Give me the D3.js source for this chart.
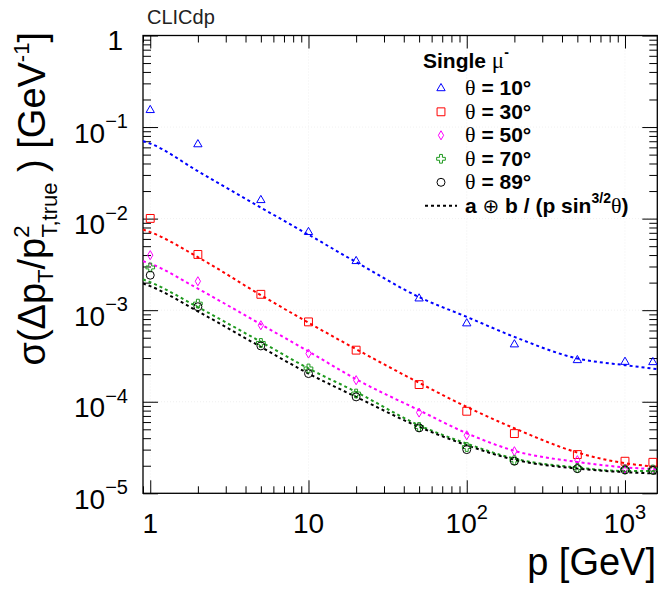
<!DOCTYPE html>
<html><head><meta charset="utf-8">
<script src="https://cdn.jsdelivr.net/npm/d3@7"></script>
<style>
body{margin:0;background:#fff}
text{font-family:"Liberation Sans",Arial,Helvetica,sans-serif}
</style>
</head><body>
<svg id="c" width="660" height="589"></svg>
<script>
// ---------------- data ----------------
const momenta = [1, 2, 5, 10, 20, 50, 100, 200, 500, 1000, 1500];
const thetaLabels = ["10", "30", "50", "70", "89"];
const sigma10 = [0.153, 0.0647, 0.0159, 0.00712, 0.00343, 0.00134, 7.16e-4, 4.22e-4, 2.84e-4, 2.72e-4, 2.70e-4];
const sigma30 = [0.01005, 0.00406, 1.49e-3, 7.45e-4, 3.66e-4, 1.54e-4, 7.87e-5, 4.49e-5, 2.65e-5, 2.24e-5, 2.18e-5];
const sigma50 = [3.99e-3, 2.07e-3, 6.85e-4, 3.36e-4, 1.72e-4, 7.62e-5, 4.30e-5, 2.88e-5, 2.30e-5, 1.86e-5, 1.82e-5];
const sigma70 = [2.93e-3, 1.18e-3, 4.39e-4, 2.31e-4, 1.23e-4, 5.30e-5, 3.20e-5, 2.30e-5, 1.89e-5, 1.82e-5, 1.82e-5];
const sigma89 = [2.41e-3, 1.09e-3, 4.07e-4, 2.03e-4, 1.13e-4, 5.18e-5, 3.00e-5, 2.24e-5, 1.86e-5, 1.80e-5, 1.78e-5];

// fitted curves a (+) b/(p sin^3/2 theta)
const fitMomenta = [0.9, 1, 2, 5, 10, 20, 50, 100, 200, 500, 1000, 1600];
const fit10 = [0.0703, 0.0660, 0.0330, 0.0132, 0.00668, 0.00335, 0.00139, 8.45e-4, 5.11e-4, 2.97e-4, 2.51e-4, 2.27e-4];
const fit30 = [7.59e-3, 7.12e-3, 3.80e-3, 1.46e-3, 7.30e-4, 3.75e-4, 1.61e-4, 8.77e-5, 5.13e-5, 2.79e-5, 2.13e-5, 1.95e-5];
const fit50 = [3.43e-3, 3.22e-3, 1.72e-3, 7.00e-4, 3.55e-4, 1.76e-4, 8.07e-5, 4.53e-5, 2.91e-5, 2.20e-5, 1.92e-5, 1.83e-5];
const fit70 = [2.17e-3, 2.02e-3, 1.08e-3, 4.51e-4, 2.31e-4, 1.28e-4, 5.53e-5, 3.49e-5, 2.39e-5, 1.91e-5, 1.75e-5, 1.75e-5];
const fit89 = [1.96e-3, 1.83e-3, 0.97e-3, 3.97e-4, 2.03e-4, 1.13e-4, 5.31e-5, 3.35e-5, 2.33e-5, 1.86e-5, 1.70e-5, 1.64e-5];

const xTickValues = [1, 10, 100, 1000];
const xTickLabels = [["1", ""], ["10", ""], ["10", "2"], ["10", "3"]];
const yTickValues = [1, 1e-1, 1e-2, 1e-3, 1e-4, 1e-5];
const yTickLabels = [["1", ""], ["10", "\u22121"], ["10", "\u22122"], ["10", "\u22123"], ["10", "\u22124"], ["10", "\u22125"]];

const seriesColors = ["#0000ff", "#ff0000", "#ff00ff", "#1f9a1f", "#000000"];
const seriesSymbols = [d3.symbolTriangle, d3.symbolSquare, d3.symbolDiamond, d3.symbolCross, d3.symbolCircle];
const symbolSizes = [30, 62, 24, 42, 50];

// ---------------- layout ----------------
const L = 143, R = 657.3, T = 35.5, B = 493.3;
const svg = d3.select("#c");
const x = d3.scaleLog().domain([0.9, 1600]).range([L, R]);
const y = d3.scaleLog().domain([1e-5, 1]).range([B, T]);

svg.append("defs").append("clipPath").attr("id", "clip")
  .append("rect").attr("x", L).attr("y", T).attr("width", R - L).attr("height", B - T);

// faint grid
const gGrid = svg.append("g").attr("stroke", "#ececec").attr("stroke-width", 0.8).attr("stroke-dasharray", "1,2");
xTickValues.forEach(v => gGrid.append("line").attr("x1", x(v)).attr("x2", x(v)).attr("y1", T).attr("y2", B));
yTickValues.forEach(v => gGrid.append("line").attr("x1", L).attr("x2", R).attr("y1", y(v)).attr("y2", y(v)));

// minor tick values
const xMinor = [], yMinor = [];
for (let d = -1; d <= 3; d++) for (let k = 2; k <= 9; k++) { const v = k * Math.pow(10, d); if (v >= 0.9 && v <= 1600) xMinor.push(v); }
for (let d = -5; d <= -1; d++) for (let k = 2; k <= 9; k++) yMinor.push(k * Math.pow(10, d));

function axis(gen, scale, vals, size, transform) {
  const g = svg.append("g").attr("transform", transform)
    .call(gen(scale).tickValues(vals).tickSize(size).tickFormat(""));
  g.select(".domain").remove();
  g.selectAll("line").attr("stroke", "#000").attr("stroke-width", 1);
}
axis(d3.axisBottom, x, xTickValues, -13, `translate(0,${B})`);
axis(d3.axisBottom, x, xMinor, -7, `translate(0,${B})`);
axis(d3.axisTop, x, xTickValues, -13, `translate(0,${T})`);
axis(d3.axisTop, x, xMinor, -7, `translate(0,${T})`);
axis(d3.axisLeft, y, yTickValues, -15, `translate(${L},0)`);
axis(d3.axisLeft, y, yMinor, -8, `translate(${L},0)`);
axis(d3.axisRight, y, yTickValues, -15, `translate(${R},0)`);
axis(d3.axisRight, y, yMinor, -8, `translate(${R},0)`);

// frame
svg.append("rect").attr("x", L).attr("y", T).attr("width", R - L).attr("height", B - T)
  .attr("fill", "none").attr("stroke", "#000").attr("stroke-width", 1.3);

// tick labels
yTickLabels.forEach((lab, i) => {
  const yy = y(yTickValues[i]);
  if (lab[1] === "") {
    svg.append("text").attr("x", 123).attr("y", yy + 14).attr("text-anchor", "end")
      .attr("font-size", 28).text(lab[0]);
  } else {
    const t = svg.append("text").attr("x", 128).attr("y", yy + 15.5).attr("text-anchor", "end").attr("font-size", 28);
    t.append("tspan").text(lab[0]);
    t.append("tspan").attr("font-size", 20).attr("dy", -14.5).text(lab[1]);
  }
});
xTickLabels.forEach((lab, i) => {
  const t = svg.append("text").attr("x", x(xTickValues[i])).attr("y", 533).attr("text-anchor", "middle").attr("font-size", 28);
  t.append("tspan").text(lab[0]);
  if (lab[1]) t.append("tspan").attr("font-size", 20).attr("dy", -14).text(lab[1]);
});

// axis titles
svg.append("text").attr("x", 656).attr("y", 575).attr("text-anchor", "end").attr("font-size", 38).text("p [GeV]");
{
  const t = svg.append("text").attr("transform", "translate(45,32) rotate(-90)").attr("text-anchor", "end").attr("font-size", 38);
  t.append("tspan").text("\u03c3(\u0394p");
  t.append("tspan").attr("font-size", 22).attr("dy", 8).text("T");
  t.append("tspan").attr("dy", -8).text("/p");
  t.append("tspan").attr("font-size", 22).attr("dy", -16).text("2");
  t.append("tspan").attr("font-size", 22).attr("dx", -12).attr("dy", 28).text("T,true");
  t.append("tspan").attr("dy", -12).text(" ) [GeV");
  t.append("tspan").attr("font-size", 22).attr("dy", -16).text("-1");
  t.append("tspan").attr("dy", 16).text("]");
}

// CLICdp label
svg.append("text").attr("x", 147).attr("y", 24).attr("font-size", 20).attr("fill", "#222").text("CLICdp");

// fit curves
const fits = [fit10, fit30, fit50, fit70, fit89];
const line = d3.line().x(d => x(d[0])).y(d => y(d[1])).curve(d3.curveMonotoneX);
const gFit = svg.append("g").attr("clip-path", "url(#clip)");
fits.forEach((f, i) => {
  gFit.append("path").attr("d", line(fitMomenta.map((p, j) => [p, f[j]])))
    .attr("fill", "none").attr("stroke", seriesColors[i]).attr("stroke-width", 2)
    .attr("stroke-dasharray", "3,3");
});

// markers
const sigmas = [sigma10, sigma30, sigma50, sigma70, sigma89];
const gPts = svg.append("g");
sigmas.forEach((s, i) => {
  const sym = d3.symbol().type(seriesSymbols[i]).size(symbolSizes[i]);
  gPts.selectAll(null).data(momenta.map((p, j) => [p, s[j]])).join("path")
    .attr("transform", d => `translate(${x(d[0])},${y(d[1])})`)
    .attr("d", sym()).attr("fill", "none").attr("stroke", seriesColors[i]).attr("stroke-width", 1);
});

// legend
const lg = svg.append("g");
const LF = 21;
{
  const t = lg.append("text").attr("x", 423).attr("y", 68).attr("font-size", LF).attr("font-weight", "bold");
  t.append("tspan").text("Single ");
  t.append("tspan").attr("font-weight", "normal").attr("font-family", "Liberation Serif").attr("font-size", 23).text("\u03bc");
  t.append("tspan").attr("font-size", 14).attr("dy", -11).text("-");
}
thetaLabels.forEach((lab, i) => {
  const cy = 88.3 + i * 23.5;
  lg.append("path").attr("transform", `translate(441,${cy})`)
    .attr("d", d3.symbol().type(seriesSymbols[i]).size(symbolSizes[i])())
    .attr("fill", "none").attr("stroke", seriesColors[i]).attr("stroke-width", 1);
  const t = lg.append("text").attr("x", 465).attr("y", cy + 7).attr("font-size", LF).attr("font-weight", "bold");
  t.append("tspan").attr("font-weight", "normal").attr("font-family", "Liberation Serif").attr("font-size", 22).text("\u03b8");
  t.append("tspan").text(" = " + lab + "\u00b0");
});
{
  const cy = 205.7;
  lg.append("line").attr("x1", 425).attr("x2", 457).attr("y1", cy).attr("y2", cy)
    .attr("stroke", "#000").attr("stroke-width", 2).attr("stroke-dasharray", "3,3");
  const t = lg.append("text").attr("x", 465).attr("y", cy + 7).attr("font-size", LF).attr("font-weight", "bold");
  t.append("tspan").text("a ");
  t.append("tspan").attr("font-weight", "normal").attr("font-family", "DejaVu Sans").attr("font-size", 20).text("\u2295");
  t.append("tspan").text(" b / (p sin");
  t.append("tspan").attr("font-size", 14).attr("dy", -10).text("3/2");
  t.append("tspan").attr("dy", 10).attr("font-weight", "normal").attr("font-family", "Liberation Serif").attr("font-size", 22).text("\u03b8");
  t.append("tspan").text(")");
}
</script>
</body></html>
